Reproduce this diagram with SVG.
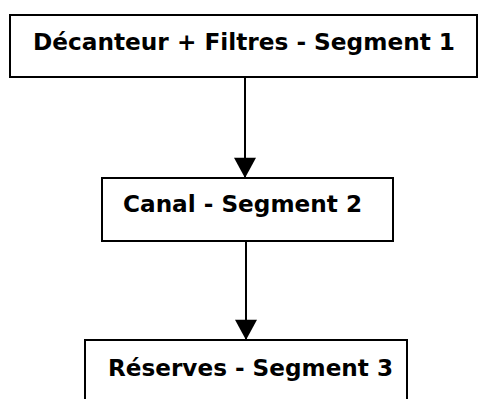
<svg xmlns="http://www.w3.org/2000/svg" width="478" height="399" viewBox="0 0 478 399">
  <defs>
    <marker id="arrow" markerUnits="userSpaceOnUse" markerWidth="24" markerHeight="22" refX="22" refY="12" orient="auto" viewBox="0 0 22 24">
      <polygon points="0,0 22,12 0,24" fill="#000"/>
    </marker>
  </defs>
  <style>
    .box { fill: #fff; stroke: #000; stroke-width: 2; }
    .lbl { font-family: "DejaVu Sans", Verdana, sans-serif; font-weight: bold; font-size: 23px; fill: #000; }
    .conn { stroke: #000; stroke-width: 2; fill: none; }
  </style>
  <rect width="478" height="399" fill="#fff"/>
  <g id="connectors">
    <line class="conn" x1="245" y1="77" x2="245" y2="178" marker-end="url(#arrow)"/>
    <line class="conn" x1="246" y1="241" x2="246" y2="340" marker-end="url(#arrow)"/>
  </g>
  <g id="node1">
    <rect class="box" x="10" y="15" width="467" height="62"/>
    <text class="lbl" x="33" y="50" textLength="422" lengthAdjust="spacingAndGlyphs">Décanteur + Filtres - Segment 1</text>
  </g>
  <g id="node2">
    <rect class="box" x="102" y="178" width="291" height="63"/>
    <text class="lbl" x="123" y="212" textLength="239" lengthAdjust="spacingAndGlyphs">Canal - Segment 2</text>
  </g>
  <g id="node3">
    <rect class="box" x="85" y="340" width="322" height="70"/>
    <text class="lbl" x="108" y="376" textLength="285" lengthAdjust="spacingAndGlyphs">Réserves - Segment 3</text>
  </g>
</svg>
